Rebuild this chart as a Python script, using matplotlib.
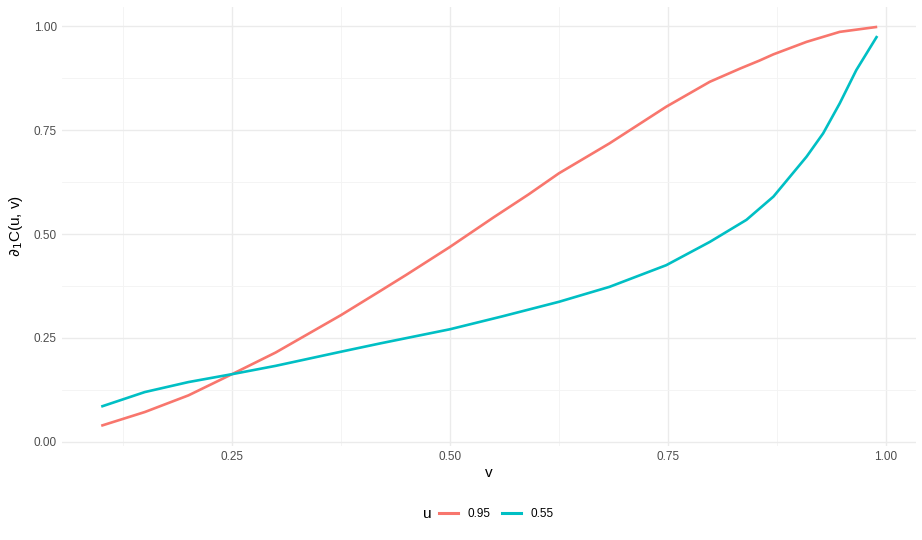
import matplotlib
matplotlib.use('Agg')
import matplotlib.pyplot as plt
from matplotlib.lines import Line2D
from matplotlib.ticker import MultipleLocator

plt.rcParams['font.family'] = ['Liberation Sans', 'DejaVu Sans']

# values
v_red = [0.10, 0.15, 0.20, 0.25, 0.30, 0.35, 0.375, 0.42, 0.45, 0.50, 0.55, 0.59, 0.625,
         0.683, 0.748, 0.798, 0.833, 0.855, 0.871, 0.909, 0.947, 0.99]
c_red = [0.039, 0.072, 0.112, 0.163, 0.215, 0.275, 0.305, 0.363, 0.402, 0.469, 0.540, 0.595, 0.646,
         0.718, 0.806, 0.866, 0.898, 0.917, 0.932, 0.962, 0.986, 0.998]

v_cyan = [0.10, 0.15, 0.20, 0.25, 0.30, 0.375, 0.42, 0.50, 0.56, 0.625, 0.683, 0.748,
          0.798, 0.840, 0.871, 0.909, 0.928, 0.947, 0.966, 0.99]
c_cyan = [0.085, 0.120, 0.144, 0.163, 0.183, 0.217, 0.237, 0.271, 0.302, 0.337, 0.373, 0.425,
          0.481, 0.534, 0.590, 0.686, 0.742, 0.814, 0.894, 0.976]

series = [('0.95', v_red, c_red, '#F8766D'), ('0.55', v_cyan, c_cyan, '#00BFC4')]

x_ticks = [0.25, 0.50, 0.75, 1.00]
y_ticks = [0.00, 0.25, 0.50, 0.75, 1.00]

fig = plt.figure(figsize=(9.22, 5.40), dpi=100)
ax = fig.add_axes([0.0677, 0.1746, 0.9258, 0.8126])

for lab, v, c, col in series:
    ax.plot(v, c, color=col, lw=1.9, label=lab, solid_capstyle='butt', solid_joinstyle='round')

ax.set_xlim(0.0555, 1.0345)
ax.set_ylim(-0.009, 1.046)
ax.set_xticks(x_ticks)
ax.set_xticklabels(['%.2f' % t for t in x_ticks])
ax.set_yticks(y_ticks)
ax.set_yticklabels(['%.2f' % t for t in y_ticks])
ax.xaxis.set_minor_locator(MultipleLocator(0.125))
ax.yaxis.set_minor_locator(MultipleLocator(0.125))

ax.grid(which='major', color='#EBEBEB', lw=1.0)
ax.grid(which='minor', color='#F3F3F3', lw=0.6)
ax.set_axisbelow(True)
for s in ax.spines.values():
    s.set_visible(False)
ax.tick_params(which='both', length=0, labelsize=8.5, labelcolor='#4D4D4D', pad=4)

ax.set_xlabel('v', fontsize=11, labelpad=2)
ax.set_ylabel(r'$\partial_1$C(u, v)', fontsize=11, labelpad=6)

handles = [Line2D([], [], color=col, lw=2.2) for _, _, _, col in series]
fig.legend(handles, [s[0] for s in series], loc='center', bbox_to_anchor=(0.538, 0.048),
           ncol=2, frameon=False, fontsize=8.5, handlelength=1.6, columnspacing=1.0,
           handletextpad=0.8)
fig.text(0.463, 0.048, 'u', fontsize=11, ha='center', va='center')

fig.savefig('out.png', dpi=100)
